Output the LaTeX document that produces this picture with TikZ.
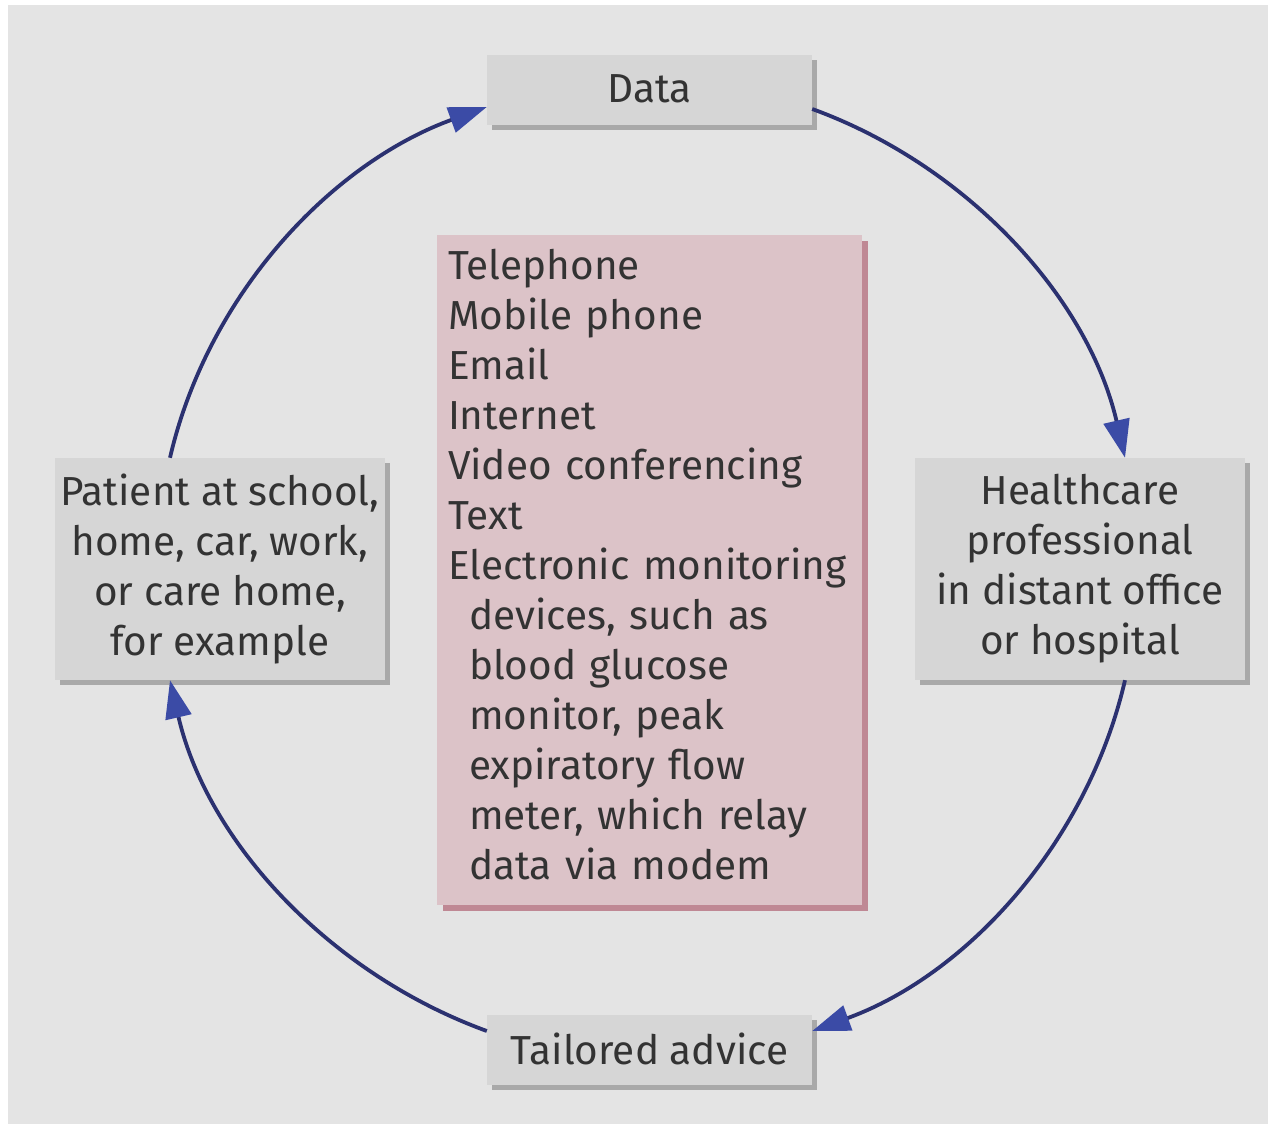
\documentclass[tikz,border=0pt]{standalone}
\usepackage{fontspec}
\setmainfont{Fira Sans}
\usetikzlibrary{arrows.meta,shadows}
\definecolor{bg}{HTML}{E4E4E4}
\definecolor{boxfill}{HTML}{D6D6D6}
\definecolor{boxshadow}{HTML}{A9A9A9}
\definecolor{pinkfill}{HTML}{DCC3C8}
\definecolor{pinkshadow}{HTML}{BF8894}
\definecolor{arrline}{HTML}{2B3170}
\definecolor{arrtip}{HTML}{3B4BA6}
\definecolor{txt}{HTML}{333333}
\begin{document}
\begin{tikzpicture}[x=1pt,y=1pt,
  graybox/.style={fill=boxfill, text=txt, align=center, inner sep=0pt,
    font=\fontsize{40.5}{50}\selectfont,
    drop shadow={shadow xshift=5pt, shadow yshift=-5pt, fill=boxshadow, opacity=1}},
  pinkbox/.style={fill=pinkfill, text=txt, align=left, inner xsep=11pt, inner ysep=0pt,
    font=\fontsize{40.5}{50}\selectfont,
    drop shadow={shadow xshift=6pt, shadow yshift=-6pt, fill=pinkshadow, opacity=1}},
  arr/.style={draw=arrline, line width=3.8pt,
    -{Triangle[length=38pt,width=26pt,color=arrtip]}}]
\useasboundingbox (0,0) rectangle (1268,1124);
\fill[white] (0,0) rectangle (1268,1124);
\fill[bg] (8,0) rectangle (1268,1119);

\node[graybox, minimum width=325pt, minimum height=70pt] (data) at (649.5,1034) {\raisebox{3pt}{Data}};
\node[graybox, minimum width=330pt, minimum height=222pt] (hc) at (1080,555)
  {Healthcare\\professional\\in distant office\\or hospital};
\node[graybox, minimum width=330pt, minimum height=222pt] (pat) at (220,555)
  {Patient at school,\\home, car, work,\\or care home,\\for example};
\node[graybox, minimum width=325pt, minimum height=70pt] (adv) at (649.5,74) {\raisebox{3pt}{Tailored advice}};

\node[pinkbox, text width=403pt, minimum height=670pt] (tech) at (649.5,554)
  {Telephone\\Mobile phone\\Email\\Internet\\Video conferencing\\Text\\Electronic monitoring\\
   \hspace*{21pt}devices, such as\\\hspace*{21pt}blood glucose\\\hspace*{21pt}monitor, peak\\
   \hspace*{21pt}expiratory flow\\\hspace*{21pt}meter, which relay\\\hspace*{21pt}data via modem\par\vspace*{10pt}};

\draw[arr] ([xshift=-50pt]pat.north) to[out=77, in=200, looseness=0.9] ([yshift=-17pt]data.west);
\draw[arr] ([yshift=-19pt]data.east) to[out=-20, in=103, looseness=0.9] ([xshift=45pt]hc.north);
\draw[arr] ([xshift=45pt]hc.south) to[out=-103, in=20, looseness=0.9] ([yshift=19pt]adv.east);
\draw[arr] ([yshift=19pt]adv.west) to[out=160, in=-77, looseness=0.9] ([xshift=-50pt]pat.south);
\end{tikzpicture}
\end{document}
